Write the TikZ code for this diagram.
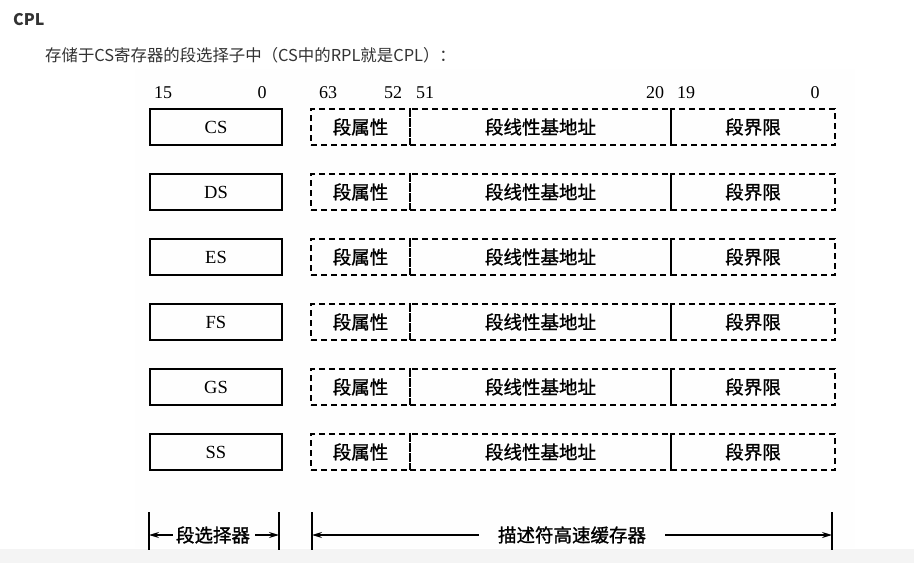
\documentclass[tikz,border=0pt]{standalone}
\usepackage{fontspec}
\setmainfont{Liberation Serif}
\newfontfamily\cjk{Noto Sans CJK SC}
\newfontfamily\cjkfig[FakeBold=1.2]{Noto Sans CJK SC}
\usetikzlibrary{arrows.meta}
\definecolor{hdr}{HTML}{333333}
\definecolor{figbg}{HTML}{FEFEFE}
\definecolor{strip}{HTML}{F4F4F4}
\tikzset{
  selbox/.style={draw=black, line width=1.3pt, minimum width=132pt, minimum height=36pt, inner sep=0pt, font=\fontsize{18.5}{18.5}\selectfont},
  fld/.style={draw=black, line width=1.4pt, dash pattern=on 6pt off 4pt, minimum height=36pt, inner sep=0pt, font=\cjkfig\fontsize{18.5}{18.5}\selectfont},
  bitlbl/.style={inner sep=0pt, font=\fontsize{18}{18}\selectfont},
  bar/.style={line width=1.3pt},
  dimarrow/.style={line width=1.2pt, -{Stealth[length=10pt,width=6pt]}},
  captxt/.style={inner sep=0pt, font=\cjkfig\fontsize{18.5}{18.5}\selectfont}
}
\begin{document}
\begin{tikzpicture}[x=1pt,y=-1pt]
\useasboundingbox (0,0) rectangle (914,563);
\fill[white] (0,0) rectangle (914,563);
\fill[figbg] (135,69) rectangle (855,548);
\fill[strip] (0,549) rectangle (914,563);
\node[anchor=west, inner sep=0pt, text=hdr, font=\cjk\bfseries\fontsize{16}{16}\selectfont] (title) at (13,20) {CPL};
\node[anchor=west, inner sep=0pt, text=hdr, font=\cjk\fontsize{16.4}{16}\selectfont] (sub) at (45,55) {存储于CS寄存器的段选择子中（CS中的RPL就是CPL）：};
% bit labels
\node[bitlbl] (b15) at (163,93) {15};
\node[bitlbl] (b0a) at (262,93) {0};
\node[bitlbl] (b63) at (328,93) {63};
\node[bitlbl] (b52) at (393,93) {52};
\node[bitlbl] (b51) at (425,93) {51};
\node[bitlbl] (b20) at (655,93) {20};
\node[bitlbl] (b19) at (686,93) {19};
\node[bitlbl] (b0b) at (815,93) {0};
% rows
\foreach \r/\y in {CS/127,DS/192,ES/257,FS/322,GS/387,SS/452}{
  \node[selbox] (sel\r) at (216,\y) {\r};
  \node[fld, minimum width=99pt] (attr\r) at (360.5,\y) {段属性};
  \node[fld, minimum width=261pt] (base\r) at (540.5,\y) {段线性基地址};
  \node[fld, minimum width=164pt] (lim\r) at (753,\y) {段界限};
}
% bottom dimension lines
\coordinate (p1t) at (149,512); \coordinate (p1b) at (149,550);
\coordinate (p2t) at (279,512); \coordinate (p2b) at (279,550);
\coordinate (p3t) at (312,512); \coordinate (p3b) at (312,550);
\coordinate (p4t) at (832,512); \coordinate (p4b) at (832,550);
\draw[bar] (p1t) -- (p1b);
\draw[bar] (p2t) -- (p2b);
\draw[bar] (p3t) -- (p3b);
\draw[bar] (p4t) -- (p4b);
\node[captxt] (selcap) at (213,535) {段选择器};
\node[captxt] (desccap) at (572,535) {描述符高速缓存器};
\coordinate (a1) at (149,535); \coordinate (a2) at (279,535);
\coordinate (a3) at (312,535); \coordinate (a4) at (832,535);
\draw[dimarrow] (selcap.west) ++(-3,0) -- (a1);
\draw[dimarrow] (selcap.east) ++(5,0) -- (a2);
\draw[dimarrow] (desccap.west) ++(-19,0) -- (a3);
\draw[dimarrow] (desccap.east) ++(19,0) -- (a4);
\end{tikzpicture}
\end{document}
